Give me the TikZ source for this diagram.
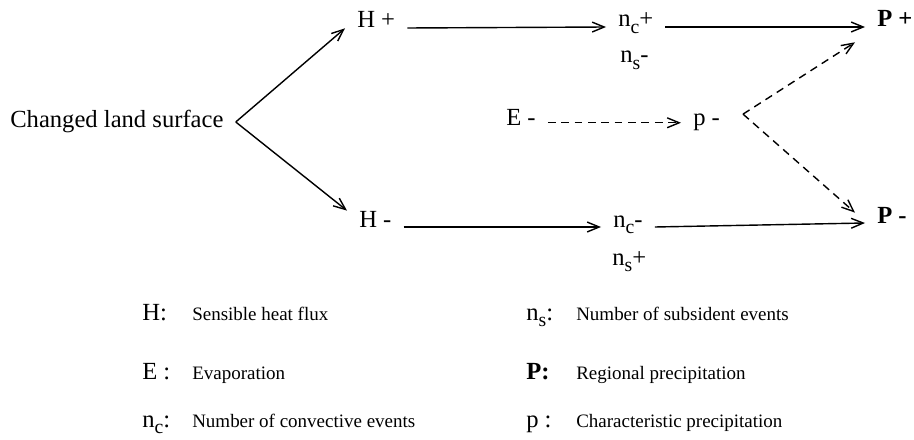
\documentclass[tikz,border=0pt]{standalone}
\usepackage{fontspec}
\setmainfont{Liberation Serif}
\usepackage{tikz}
\usetikzlibrary{arrows.meta}

\newcommand{\lowsub}[1]{\raisebox{-0.6ex}{\fontsize{14}{14}\selectfont #1}}

\begin{document}
\begin{tikzpicture}[
    x=0.025cm, y=-0.025cm,
    lab/.style={font=\fontsize{17.5}{20}\selectfont, inner xsep=0.3cm, inner ysep=0pt, anchor=base west},
    key/.style={font=\fontsize{17.5}{20}\selectfont, inner sep=0pt, anchor=base west},
    desc/.style={font=\fontsize{13.5}{16}\selectfont, inner sep=0pt, anchor=base west},
    link/.style={line width=1pt, -{Straight Barb[length=8.5pt, width=7pt]}},
    weak/.style={link, dash pattern=on 5.5pt off 4pt},
  ]
  \useasboundingbox (0,0) rectangle (914,440);

  % --- cause ---
  \node[lab] (land) at (-2,128) {Changed land surface};

  % --- heat flux branch ---
  \node[lab] (Hp) at (345,28) {H +};
  \node[lab] (Hm) at (347,227) {H -};
  \node[lab] (ncp) at (606,27) {n\lowsub{c}+};
  \node[lab] (nsm) at (608,63) {n\lowsub{s}-};
  \node[lab] (ncm) at (601,227) {n\lowsub{c}-};
  \node[lab] (nsp) at (600,265) {n\lowsub{s}+};
  \node[lab] (Pp) at (865,27) {\bfseries P +};
  \node[lab] (Pm) at (865,223) {\bfseries P -};

  % --- evaporation branch ---
  \node[lab] (Em) at (494,126) {E -};
  \node[lab] (pm) at (681,126) {p -};
  \coordinate (pfork) at ([xshift=0.27cm]pm.north east);

  \draw[link] (land.east) -- (Hp.south west);
  \draw[link] (land.east) -- (Hm.north west);
  \draw[link] (Hp.base east) -- (ncp.base west);
  \draw[link] (ncp.base east) -- (Pp.base west);
  \draw[link] (Hm.base east) -- (ncm.base west);
  \draw[link] (ncm.base east) -- (Pm.base west);

  \draw[weak] (Em.mid east) -- (pm.mid west);
  \draw[weak] (pfork) -- ([xshift=-0.25cm, yshift=-0.375cm]Pp.south west);
  \draw[weak] (pfork) -- ([xshift=-0.25cm, yshift=-0.15cm]Pm.north west);

  % --- legend ---
  \node[key] (kH) at (142,320) {H:};
  \node[key] (kE) at (142,379) {E :};
  \node[key] (knc) at (142,427) {n\lowsub{c}:};
  \node[desc] (dH) at (192,320) {Sensible heat flux};
  \node[desc] (dE) at (192,379) {Evaporation};
  \node[desc] (dnc) at (192,427) {Number of convective events};

  \node[key] (kns) at (526,320) {n\lowsub{s}:};
  \node[key] (kP) at (526,379) {\bfseries P:};
  \node[key] (kp) at (526,427) {p :};
  \node[desc] (dns) at (576,320) {Number of subsident events};
  \node[desc] (dP) at (576,379) {Regional precipitation};
  \node[desc] (dp) at (576,427) {Characteristic precipitation};

\end{tikzpicture}
\end{document}
